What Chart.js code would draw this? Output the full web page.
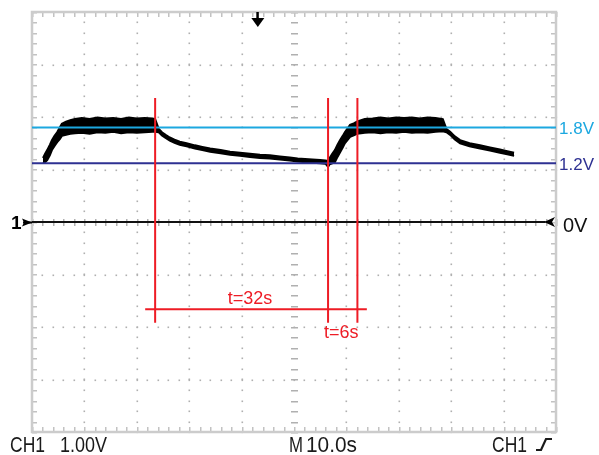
<!DOCTYPE html>
<html>
<head>
<meta charset="utf-8">
<script src="https://cdn.jsdelivr.net/npm/chart.js@4/dist/chart.umd.min.js"></script>
<style>
  body { margin: 0; background: #fff; }
  canvas { display: block; }
</style>
</head>
<body>
<canvas id="scopeChart" width="599" height="455"></canvas>
<script>
// time in seconds (10 s/div), volts (1 V/div)
let traceTime = [2.1, 2.5, 2.9, 3.4, 3.8, 4.3, 4.8, 5.3, 5.7, 6.5, 7.3, 8.2,
  9.5, 11, 12.5, 14, 15.5, 17, 18.5, 20, 21.5, 23,
  23.5, 24.2, 24.8, 25.5, 26.3, 27.2, 28.2, 29.5, 31.1, 32.5, 34, 36, 37.8, 39.7,
  41.6, 43.5, 45.4, 47.3, 49.2, 50.7, 52.1, 53.5, 55, 56, 56.5,
  56.8, 57.3, 57.8, 58.3, 58.8, 59.3, 59.7, 60.2, 60.7, 61.4, 62, 62.8, 63.5,
  65, 66.5, 68, 69.5, 71, 72.5, 74, 75.5, 77, 78.4,
  79.1, 79.8, 80.7, 81.7, 83.5, 85.5, 87.4, 89.3, 90.7, 92];
let traceHigh = [1.22, 1.30, 1.37, 1.47, 1.56, 1.64, 1.71, 1.80, 1.87, 1.91, 1.94, 1.96,
  1.98, 1.96, 1.99, 1.97, 1.98, 1.96, 1.99, 1.97, 1.98, 1.97,
  1.96, 1.77, 1.71, 1.66, 1.61, 1.57, 1.53, 1.50, 1.46, 1.43, 1.40, 1.37, 1.34, 1.32,
  1.30, 1.28, 1.27, 1.25, 1.23, 1.21, 1.20, 1.19, 1.18, 1.17, 1.16,
  1.22, 1.30, 1.37, 1.47, 1.56, 1.64, 1.71, 1.78, 1.85, 1.88, 1.91, 1.94, 1.96,
  1.97, 1.99, 1.97, 1.99, 1.98, 1.99, 1.97, 1.99, 1.98, 1.96,
  1.77, 1.72, 1.63, 1.56, 1.50, 1.46, 1.42, 1.38, 1.35, 1.32];
let traceLow = [1.12, 1.14, 1.18, 1.27, 1.37, 1.45, 1.52, 1.58, 1.64, 1.66, 1.68, 1.69,
  1.70, 1.68, 1.71, 1.70, 1.72, 1.69, 1.71, 1.70, 1.71, 1.72,
  1.72, 1.71, 1.65, 1.60, 1.55, 1.51, 1.47, 1.44, 1.40, 1.37, 1.34, 1.31, 1.28, 1.26,
  1.24, 1.22, 1.21, 1.19, 1.17, 1.15, 1.14, 1.13, 1.12, 1.11, 1.05,
  1.10, 1.12, 1.14, 1.24, 1.33, 1.42, 1.50, 1.56, 1.62, 1.65, 1.68, 1.69, 1.70,
  1.71, 1.69, 1.71, 1.70, 1.72, 1.70, 1.71, 1.70, 1.72, 1.73,
  1.71, 1.66, 1.57, 1.50, 1.44, 1.40, 1.36, 1.32, 1.29, 1.26];

let levelValues = [1.8, 1.12, 0];
let levelLabels = ["1.8V", "1.2V", "0V"];
let levelColors = ["#1ca8e0", "#2e3192", "#111111"];

let cursorTimes = [23.5, 56.5, 62.1];
let cursorTop = 2.36, cursorBottom = -1.92;
let spanLevel = -1.66, spanStart = 21.6, spanEnd = 63.9;
let spanLabels = ["t=32s", "t=6s"];
let spanLabelAt = [[41.6, -1.47], [59.0, -2.11]];

let bottomLabels = ["CH1", "1.00V", "M", "10.0s", "CH1"];

let RED = "#ee1c25";

function pts(xs, ys) {
  return xs.map((x, i) => ({ x: x, y: ys[i] }));
}

let datasets = [];
// red cursors, on top
cursorTimes.forEach((t) => {
  datasets.push({ data: [{ x: t, y: cursorTop }, { x: t, y: cursorBottom }],
    borderColor: RED, borderWidth: 2, pointRadius: 0, order: 0 });
});
datasets.push({ data: [{ x: spanStart, y: spanLevel }, { x: spanEnd, y: spanLevel }],
  borderColor: RED, borderWidth: 2, pointRadius: 0, order: 0 });
// reference levels
datasets.push({ data: [{ x: 0, y: levelValues[0] }, { x: 100, y: levelValues[0] }],
  borderColor: levelColors[0], borderWidth: 2, pointRadius: 0, order: 1 });
datasets.push({ data: [{ x: 0, y: levelValues[1] }, { x: 100, y: levelValues[1] }],
  borderColor: levelColors[1], borderWidth: 2, pointRadius: 0, order: 1 });
datasets.push({ data: [{ x: 0, y: levelValues[2] }, { x: 98, y: levelValues[2] }],
  borderColor: levelColors[2], borderWidth: 2, pointRadius: 0, order: 1 });
// trace envelope
datasets.push({ data: pts(traceTime, traceHigh), borderColor: "#000", borderWidth: 2,
  pointRadius: 0, fill: false, order: 5 });
datasets.push({ data: pts(traceTime, traceLow), borderColor: "#000", borderWidth: 2,
  pointRadius: 0, fill: "-1", backgroundColor: "#000", order: 5 });

let scopeGrid = {
  id: "scopeGrid",
  beforeDatasetsDraw(chart) {
    let ctx = chart.ctx, a = chart.chartArea;
    let xs = chart.scales.x, ys = chart.scales.y;
    ctx.save();
    ctx.fillStyle = "#b0b0b0";
    // dotted major grid
    for (let gx = 10; gx < 100; gx += 10) {
      let px = Math.round(xs.getPixelForValue(gx));
      for (let v = -4; v <= 4.001; v += 0.2) {
        let py = Math.round(ys.getPixelForValue(v));
        if (gx === 50) ctx.fillRect(px - 3, py, 7, 1.5);
        else ctx.fillRect(px - 0.5, py - 0.5, 1.6, 1.6);
      }
    }
    for (let gy = -3; gy <= 3; gy += 1) {
      let py = Math.round(ys.getPixelForValue(gy));
      for (let t = 0; t <= 100.001; t += 2) {
        let px = Math.round(xs.getPixelForValue(t));
        if (gy === 0) ctx.fillRect(px, py - 3, 1.5, 7);
        else ctx.fillRect(px - 0.5, py - 0.5, 1.6, 1.6);
      }
    }
    // border ticks
    ctx.fillStyle = "#c2c2c2";
    for (let t = 0; t <= 100.001; t += 2) {
      let px = Math.round(xs.getPixelForValue(t));
      ctx.fillRect(px, a.top, 1.5, 5);
      ctx.fillRect(px, a.bottom - 5, 1.5, 5);
    }
    for (let v = -4; v <= 4.001; v += 0.2) {
      let py = Math.round(ys.getPixelForValue(v));
      ctx.fillRect(a.left, py, 5, 1.5);
      ctx.fillRect(a.right - 5, py, 5, 1.5);
    }
    ctx.strokeStyle = "#cccccc";
    ctx.lineWidth = 2.5;
    ctx.strokeRect(a.left, a.top, a.right - a.left, a.bottom - a.top);
    ctx.restore();
  },
  afterDatasetsDraw(chart) {
    let ctx = chart.ctx, a = chart.chartArea;
    let xs = chart.scales.x, ys = chart.scales.y;
    ctx.save();
    ctx.font = "18px 'Liberation Sans', Arial, sans-serif";
    ctx.textAlign = "center";
    ctx.textBaseline = "middle";
    ctx.fillStyle = RED;
    spanLabels.forEach((s, i) => {
      ctx.fillText(s, xs.getPixelForValue(spanLabelAt[i][0]), ys.getPixelForValue(spanLabelAt[i][1]));
    });
    // level labels at right
    ctx.textAlign = "left";
    ctx.textBaseline = "alphabetic";
    ctx.font = "17px 'Liberation Sans', Arial, sans-serif";
    ctx.fillStyle = levelColors[0];
    ctx.fillText(levelLabels[0], a.right + 3, ys.getPixelForValue(levelValues[0]) + 6.5);
    ctx.fillStyle = levelColors[1];
    ctx.fillText(levelLabels[1], a.right + 3, ys.getPixelForValue(levelValues[1]) + 7);
    ctx.font = "20px 'Liberation Sans', Arial, sans-serif";
    ctx.fillStyle = levelColors[2];
    let y0 = ys.getPixelForValue(0);
    ctx.fillText(levelLabels[2], a.right + 7, y0 + 10);
    // 0V markers
    ctx.fillStyle = "#000";
    ctx.beginPath();
    ctx.moveTo(a.right - 12, y0);
    ctx.lineTo(a.right - 1, y0 - 5);
    ctx.lineTo(a.right - 4, y0);
    ctx.lineTo(a.right - 1, y0 + 5);
    ctx.closePath();
    ctx.fill();
    ctx.beginPath();
    ctx.moveTo(a.left, y0 + 0.5);
    ctx.lineTo(a.left - 10, y0 - 3.5);
    ctx.lineTo(a.left - 8, y0 + 0.5);
    ctx.lineTo(a.left - 10, y0 + 4.5);
    ctx.closePath();
    ctx.fill();
    ctx.fillRect(a.left - 9, y0 - 0.5, 9, 2);
    ctx.font = "bold 19px 'Liberation Sans', Arial, sans-serif";
    ctx.fillText("1", a.left - 21, y0 + 7);
    // trigger position arrow
    let tx = xs.getPixelForValue(43);
    ctx.fillRect(tx - 1, a.top, 2.5, 8);
    ctx.beginPath();
    ctx.moveTo(tx - 6, a.top + 6);
    ctx.lineTo(tx + 7, a.top + 6);
    ctx.lineTo(tx + 0.5, a.top + 15);
    ctx.closePath();
    ctx.fill();
    // bottom status line
    ctx.fillStyle = "#1a1a1a";
    ctx.font = "22px 'Liberation Sans', Arial, sans-serif";
    ctx.fillText(bottomLabels[0], 10, 452, 35);
    ctx.fillText(bottomLabels[1], 60, 452, 47);
    ctx.fillText(bottomLabels[2], 289, 452, 14);
    ctx.fillText(bottomLabels[3], 306, 452, 51);
    ctx.fillText(bottomLabels[4], 492, 452, 35);
    ctx.strokeStyle = "#1a1a1a";
    ctx.lineWidth = 2.2;
    ctx.beginPath();
    ctx.moveTo(536, 450);
    ctx.lineTo(541, 450);
    ctx.lineTo(546, 439);
    ctx.lineTo(552, 439);
    ctx.stroke();
    ctx.restore();
  }
};

let config = {
  type: "line",
  data: { datasets: datasets },
  options: {
    responsive: false,
    animation: false,
    layout: { padding: { left: 32, top: 12, right: 43, bottom: 23 } },
    elements: { line: { tension: 0 } },
    scales: {
      x: { type: "linear", min: 0, max: 100, display: false },
      y: { type: "linear", min: -4, max: 4, display: false },
    },
    plugins: { legend: { display: false }, tooltip: { enabled: false } },
  },
  plugins: [scopeGrid],
};
let scopeChart = new Chart(document.getElementById("scopeChart"), config);
</script>
</body>
</html>
